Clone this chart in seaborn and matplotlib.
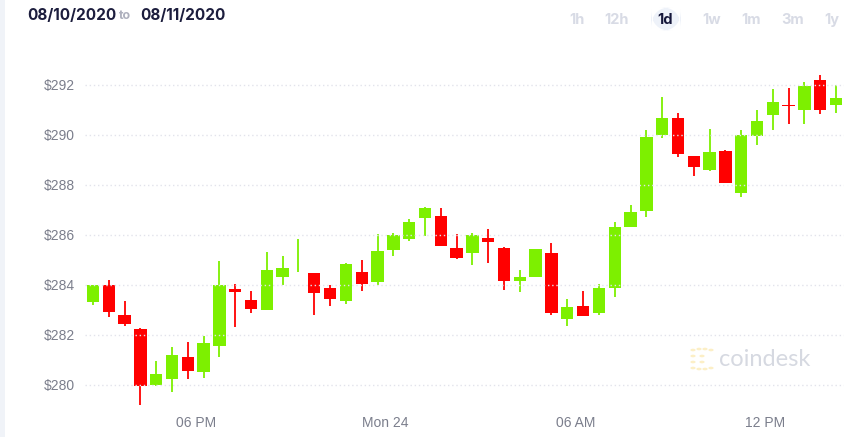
import numpy as np
import pandas as pd
import matplotlib
matplotlib.use("Agg")
import matplotlib.pyplot as plt
import seaborn as sns
from matplotlib.patches import FancyBboxPatch, Circle, Rectangle

# ---- data (30-min candles) ----
opens = [283.30, 284.00, 282.78, 282.24, 280.00, 280.22, 281.13, 280.53, 281.54, 283.85,
         283.40, 283.00, 284.34, 284.55, 284.46, 283.89, 283.36, 284.53, 284.10, 285.40,
         285.82, 286.66, 286.77, 285.49, 285.26, 285.88, 285.48, 284.14, 284.34, 285.28,
         282.64, 283.16, 282.88, 283.88, 286.34, 286.96, 290.01, 290.69, 289.14, 288.61,
         289.36, 287.66, 289.97, 290.79, 291.20, 291.00, 292.21, 291.19]
highs = [284.00, 284.21, 283.37, 282.26, 280.96, 281.53, 281.72, 281.97, 284.96, 284.04,
         283.77, 285.34, 285.16, 285.85, 284.49, 284.00, 284.88, 285.00, 286.05, 286.08,
         286.64, 287.13, 287.08, 286.04, 286.08, 286.25, 285.50, 284.58, 285.44, 285.68,
         283.45, 283.77, 284.05, 286.52, 287.21, 290.21, 291.52, 290.90, 289.16, 290.25,
         289.38, 290.20, 291.01, 291.85, 291.90, 292.13, 292.38, 292.01]
lows = [283.18, 282.70, 282.37, 279.18, 279.94, 279.70, 280.24, 280.26, 281.10, 282.30,
        282.88, 282.98, 284.01, 284.50, 282.80, 283.14, 283.25, 283.76, 284.01, 285.14,
        285.74, 285.94, 285.56, 285.02, 284.80, 284.90, 283.81, 283.73, 284.32, 282.81,
        282.35, 282.74, 282.81, 283.52, 286.30, 286.70, 289.86, 289.13, 288.37, 288.55,
        288.07, 287.53, 289.61, 290.19, 290.45, 290.45, 290.82, 290.89]
closes = [283.98, 282.92, 282.44, 279.97, 280.44, 281.21, 280.54, 281.69, 284.00, 283.70,
          283.04, 284.60, 284.66, 284.55, 283.66, 283.45, 284.85, 284.04, 285.37, 286.01,
          286.50, 287.06, 285.56, 285.09, 286.00, 285.72, 284.16, 284.32, 285.42, 282.90,
          283.13, 282.76, 283.89, 286.30, 286.92, 289.92, 290.66, 289.22, 288.70, 289.32,
          288.09, 290.00, 290.57, 291.32, 291.15, 291.97, 290.98, 291.49]

x_tick_pos = [6.5, 18.5, 30.5, 42.5]
x_tick_labels = ["06 PM", "Mon 24", "06 AM", "12 PM"]
y_ticks = [280, 282, 284, 286, 288, 290, 292]
y_tick_labels = ["$280", "$282", "$284", "$286", "$288", "$290", "$292"]
ranges = ["1h", "12h", "1d", "1w", "1m", "3m", "1y"]

df = pd.DataFrame({"idx": np.arange(len(opens)), "open": opens, "high": highs,
                   "low": lows, "close": closes})
df["up"] = df["close"] >= df["open"]

GREEN = "#7DF000"
RED = "#FF0000"
W, H = 864, 437

sns.set_theme(style="white")
plt.rcParams["font.family"] = ["Liberation Sans", "DejaVu Sans"]

fig = plt.figure(figsize=(W / 100, H / 100), dpi=100)
fig.patch.set_facecolor("white")
ax = fig.add_axes([85 / W, (H - 410) / H, (844 - 85) / W, 350 / H])
ax.set_facecolor("white")

colors = np.where(df["up"], GREEN, RED)
ax.vlines(df["idx"], df["low"], df["high"], colors=colors, linewidth=1.3, zorder=2)
bottoms = np.minimum(df["open"], df["close"])
heights = np.abs(df["close"] - df["open"])
ax.bar(df["idx"], heights, bottom=bottoms, width=0.78, color=colors,
       edgecolor="none", linewidth=0, zorder=3)

ax.set_xlim(-0.5, 47.5)
ax.set_ylim(279.0, 293.0)
for yv in y_ticks:
    ax.axhline(yv, color="#e2e3eb", linewidth=1.0, linestyle=(0, (1, 2)), zorder=4)

ax.set_yticks(y_ticks)
ax.set_yticklabels(y_tick_labels)
ax.set_xticks(x_tick_pos)
ax.set_xticklabels(x_tick_labels)
ax.tick_params(axis="both", length=0, labelsize=10, labelcolor="#7b7e8c")
ax.tick_params(axis="y", pad=7)
ax.tick_params(axis="x", pad=4)
ax.grid(False)
sns.despine(ax=ax, left=True, bottom=True)

# left strip
fig.patches.append(Rectangle((0, 0), 5 / W, 1, transform=fig.transFigure,
                             facecolor="#f0f3f8", edgecolor="none", zorder=0))

# header
hy = 1 - 16 / H
fig.text(27 / W, hy, "08/10/2020", fontsize=11, fontweight="bold", color="#1c1d3d",
         family=["Inter", "DejaVu Sans"], va="center", ha="left")
fig.text(125 / W, hy, "to", fontsize=9, fontweight="bold", color="#aeb0bd",
         family=["Inter", "DejaVu Sans"], va="center", ha="center")
fig.text(140 / W, hy, "08/11/2020", fontsize=11, fontweight="bold", color="#1c1d3d",
         family=["Inter", "DejaVu Sans"], va="center", ha="left")

# range buttons
bx = [577.5, 617, 665.5, 712, 751.5, 793, 832]
by = 1 - 20 / H
pill = FancyBboxPatch((651 / W, 1 - 31 / H), 30 / W, 24 / H,
                      boxstyle="round,pad=0,rounding_size=0.025",
                      transform=fig.transFigure, facecolor="#eef2f9",
                      edgecolor="none", mutation_aspect=W / H)
fig.patches.append(pill)
for lbl, xx in zip(ranges, bx):
    fig.text(xx / W, by, lbl, fontsize=10.5, fontweight="bold",
             color="#15173a" if lbl == "1d" else "#d8dbe5",
             family=["Inter", "DejaVu Sans"], va="center", ha="center")

# watermark
fig.text(719 / W, 1 - 359 / H, "coindesk", fontsize=17, color="#d6d9e1",
         va="center", ha="left", family=["Lato", "DejaVu Sans"])
dots = [(693, 350), (693, 356), (693, 362), (693, 368), (699, 349), (705, 349),
        (711, 350), (699, 369), (705, 369), (711, 368), (702, 356), (702, 362)]
for (dx, dy) in dots:
    fig.patches.append(Circle((dx / W, 1 - dy / H), 2.6 / W, transform=fig.transFigure,
                              facecolor="#fcefc6", edgecolor="none"))

fig.savefig("out.png", dpi=100, facecolor="white")
